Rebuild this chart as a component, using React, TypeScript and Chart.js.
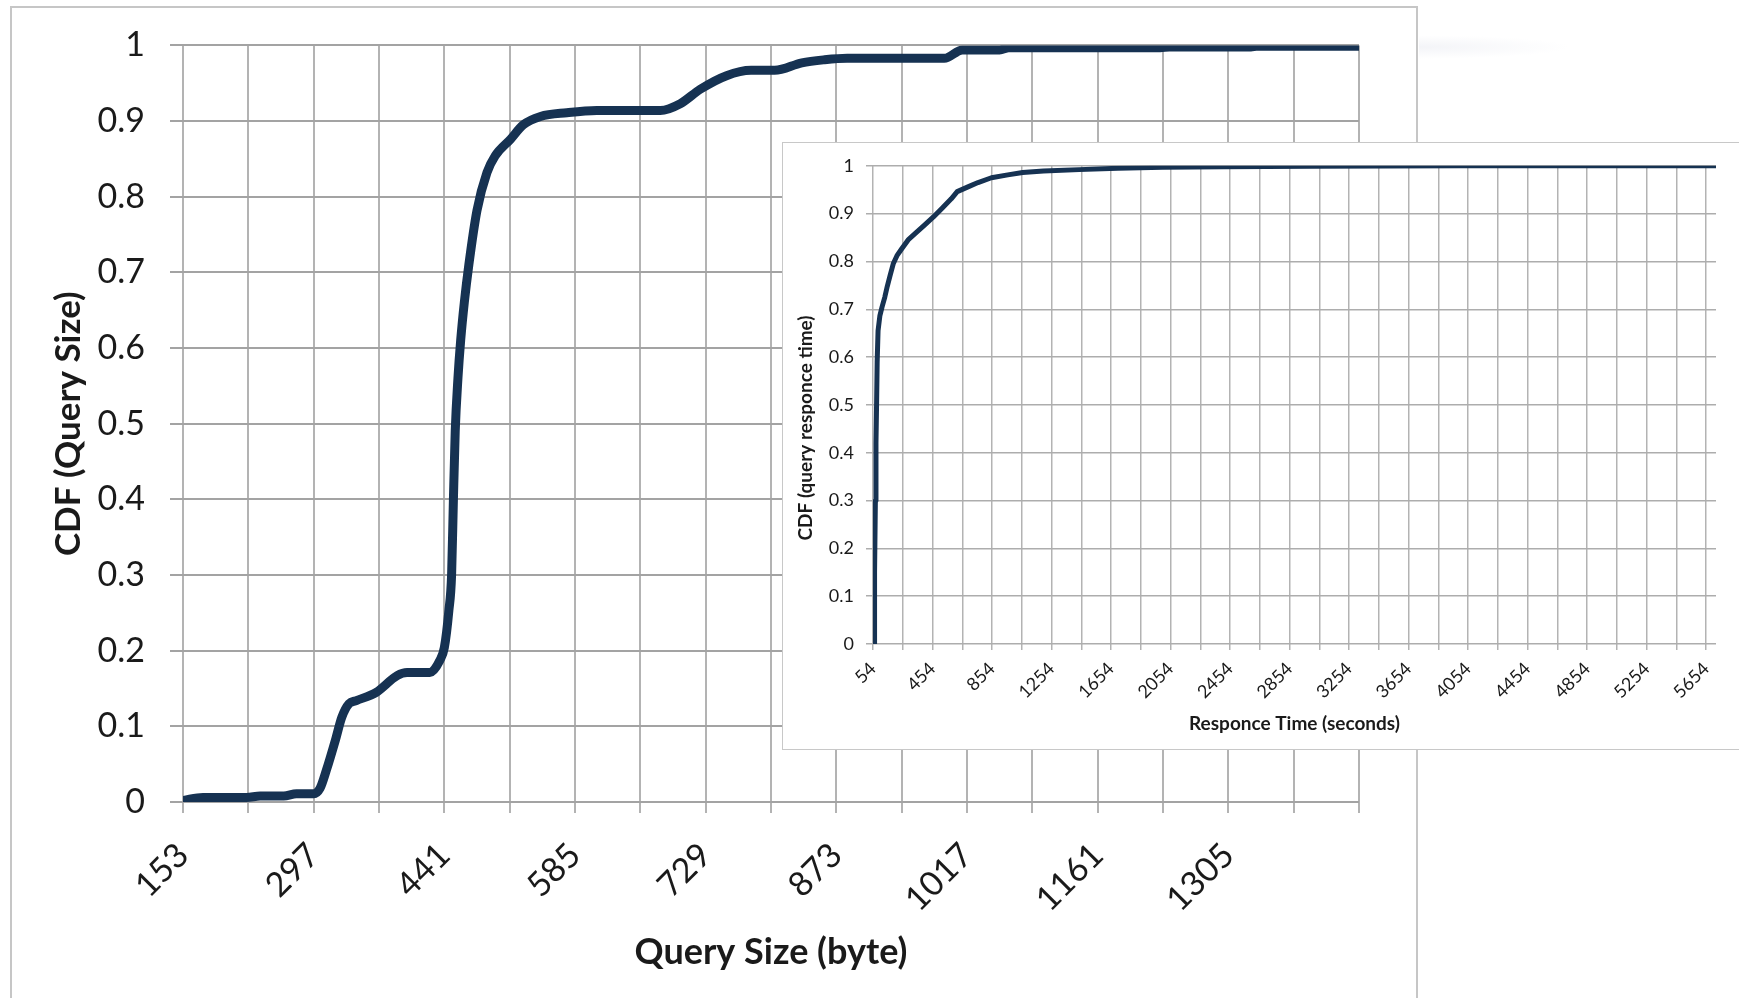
import React, { useEffect, useRef } from "react";
import { Chart, registerables } from "chart.js";

Chart.register(...registerables);

// ---------- Main chart: CDF of query size ----------
const sizeBytes = [153, 175, 223, 238, 264, 278, 297, 304, 311, 321, 328, 336, 344, 366, 389, 400, 425, 436, 441, 446, 449, 451, 453, 456, 459, 463, 468, 477, 488, 497, 514, 528, 547, 576, 609, 679, 701, 723, 752, 779, 805, 835, 860, 885, 992, 1012, 1053, 1063, 1230, 1240, 1330, 1336, 1449];
const sizeCdf = [0.002, 0.006, 0.006, 0.008, 0.008, 0.011, 0.011, 0.018, 0.042, 0.082, 0.112, 0.13, 0.134, 0.145, 0.167, 0.171, 0.171, 0.187, 0.204, 0.253, 0.3, 0.4, 0.49, 0.56, 0.61, 0.66, 0.71, 0.782, 0.832, 0.854, 0.876, 0.895, 0.906, 0.911, 0.914, 0.914, 0.923, 0.942, 0.96, 0.967, 0.967, 0.977, 0.981, 0.983, 0.983, 0.994, 0.994, 0.997, 0.997, 0.998, 0.998, 0.999, 0.999];
const sizeGridTicks = [153, 225, 297, 369, 441, 513, 585, 657, 729, 801, 873, 945, 1017, 1089, 1161, 1233, 1305, 1377, 1449];
const sizeTickLabels = [153, 297, 441, 585, 729, 873, 1017, 1161, 1305];
const cdfTicks = [0, 0.1, 0.2, 0.3, 0.4, 0.5, 0.6, 0.7, 0.8, 0.9, 1];
const cdfTickLabels = ["0", "0.1", "0.2", "0.3", "0.4", "0.5", "0.6", "0.7", "0.8", "0.9", "1"];

// ---------- Inset chart: CDF of query response time ----------
const respSeconds = [61, 63, 66, 70, 74, 78, 82, 88, 100, 115, 133, 150, 170, 190, 215, 246, 290, 340, 400, 460, 520, 580, 620, 700, 760, 850, 960, 1060, 1200, 1440, 1700, 2000, 2400, 3000, 4000, 5000, 5720];
const respCdf = [0, 0.05, 0.15, 0.3, 0.42, 0.5, 0.59, 0.655, 0.686, 0.705, 0.725, 0.748, 0.772, 0.795, 0.812, 0.826, 0.845, 0.859, 0.876, 0.893, 0.912, 0.931, 0.946, 0.957, 0.965, 0.975, 0.981, 0.986, 0.989, 0.992, 0.995, 0.997, 0.998, 0.999, 1.0, 1.0, 1.0];
const respGridTicks = [54, 254, 454, 654, 854, 1054, 1254, 1454, 1654, 1854, 2054, 2254, 2454, 2654, 2854, 3054, 3254, 3454, 3654, 3854, 4054, 4254, 4454, 4654, 4854, 5054, 5254, 5454, 5654];
const respTickLabels = [54, 454, 854, 1254, 1654, 2054, 2454, 2854, 3254, 3654, 4054, 4454, 4854, 5254, 5654];
const respYTitle = "CDF (query responce time)";

const LINE = "#163252";
const FONT = "Lato, 'Open Sans', sans-serif";

function MainChart() {
  const ref = useRef<HTMLCanvasElement | null>(null);
  useEffect(() => {
    if (!ref.current) return;
    const chart = new Chart(ref.current, {
      type: "line",
      data: {
        datasets: [
          {
            data: sizeBytes.map((x, i) => ({ x, y: sizeCdf[i] })),
            borderColor: LINE,
            borderWidth: 9,
            pointRadius: 0,
            cubicInterpolationMode: "monotone",
            borderCapStyle: "round",
            borderJoinStyle: "round",
            fill: false,
          },
        ],
      },
      options: {
        animation: false,
        responsive: false,
        devicePixelRatio: 1,
        layout: { padding: { left: 0, top: 41, right: 380, bottom: 0 } },
        plugins: { legend: { display: false }, tooltip: { enabled: false } },
        scales: {
          x: {
            type: "linear",
            min: 153,
            max: 1449,
            afterBuildTicks: (s: any) => {
              s.ticks = sizeGridTicks.map((v) => ({ value: v }));
            },
            afterFit: (s: any) => {
              s.height = 196;
            },
            ticks: {
              autoSkip: false,
              minRotation: 45,
              maxRotation: 45,
              padding: 22,
              color: "#1a1a1a",
              font: { family: FONT, size: 34 },
              callback: (v: any) => (sizeTickLabels.includes(Number(v)) ? String(v) : ""),
            },
            grid: { color: "#b3b3b3", lineWidth: 2, tickLength: 11, tickColor: "#b3b3b3" },
            border: { display: false },
            title: {
              display: true,
              text: "Query Size (byte)",
              color: "#1a1a1a",
              font: { family: FONT, size: 36, weight: "bold" },
              padding: { top: 0, bottom: 24 },
            },
          },
          y: {
            type: "linear",
            min: 0,
            max: 1,
            afterBuildTicks: (s: any) => {
              s.ticks = cdfTicks.map((v) => ({ value: v }));
            },
            afterFit: (s: any) => {
              s.width = 183;
            },
            ticks: {
              autoSkip: false,
              padding: 25,
              color: "#1a1a1a",
              font: { family: FONT, size: 34 },
              callback: (_v: any, i: number) => cdfTickLabels[i],
            },
            grid: { color: "#a3a3a3", lineWidth: 2, tickLength: 13, tickColor: "#a3a3a3" },
            border: { display: false },
            title: {
              display: true,
              text: "CDF (Query Size)",
              color: "#1a1a1a",
              font: { family: FONT, size: 35, weight: "bold" },
              padding: { top: 48, bottom: 0 },
            },
          },
        },
      },
    } as any);
    return () => chart.destroy();
  }, []);
  return (
    <canvas
      ref={ref}
      width={1739}
      height={998}
      style={{ position: "absolute", left: 0, top: 0, width: 1739, height: 998 }}
    />
  );
}

const insetYTitlePlugin = {
  id: "insetYTitle",
  afterDraw(chart: any) {
    const ctx = chart.ctx;
    ctx.save();
    ctx.translate(23, 285);
    ctx.rotate(-Math.PI / 2);
    ctx.font = `bold 19px ${FONT}`;
    ctx.fillStyle = "#1a1a1a";
    ctx.textAlign = "center";
    ctx.textBaseline = "middle";
    ctx.fillText(respYTitle, 0, 0);
    ctx.restore();
  },
};

function InsetChart() {
  const ref = useRef<HTMLCanvasElement | null>(null);
  useEffect(() => {
    if (!ref.current) return;
    const chart = new Chart(ref.current, {
      type: "line",
      data: {
        datasets: [
          {
            data: respSeconds.map((x, i) => ({ x, y: respCdf[i] })),
            borderColor: LINE,
            borderWidth: 5,
            pointRadius: 0,
            tension: 0,
            borderCapStyle: "round",
            borderJoinStyle: "round",
            fill: false,
          },
        ],
      },
      options: {
        animation: false,
        responsive: false,
        devicePixelRatio: 1,
        layout: { padding: { left: 0, top: 19, right: 23, bottom: 0 } },
        plugins: { legend: { display: false }, tooltip: { enabled: false } },
        scales: {
          x: {
            type: "linear",
            min: 54,
            max: 5720,
            afterBuildTicks: (s: any) => {
              s.ticks = respGridTicks.map((v) => ({ value: v }));
            },
            afterFit: (s: any) => {
              s.height = 105;
            },
            ticks: {
              autoSkip: false,
              minRotation: 45,
              maxRotation: 45,
              padding: 8,
              color: "#1a1a1a",
              font: { family: FONT, size: 18 },
              callback: (v: any) => (respTickLabels.includes(Number(v)) ? String(v) : ""),
            },
            grid: { color: "#b3b3b3", lineWidth: 1.5, tickLength: 6, tickColor: "#b3b3b3" },
            border: { display: false },
            title: {
              display: true,
              text: "Responce Time (seconds)",
              color: "#1a1a1a",
              font: { family: FONT, size: 19, weight: "bold" },
              padding: { top: 0, bottom: 14 },
            },
          },
          y: {
            type: "linear",
            min: 0,
            max: 1,
            afterBuildTicks: (s: any) => {
              s.ticks = cdfTicks.map((v) => ({ value: v }));
            },
            afterFit: (s: any) => {
              s.width = 90;
            },
            ticks: {
              autoSkip: false,
              padding: 12,
              color: "#1a1a1a",
              font: { family: FONT, size: 18 },
              callback: (_v: any, i: number) => cdfTickLabels[i],
            },
            grid: { color: "#adadad", lineWidth: 1.5, tickLength: 7, tickColor: "#adadad" },
            border: { display: false },
            title: { display: false },
          },
        },
      },
      plugins: [insetYTitlePlugin],
    } as any);
    return () => chart.destroy();
  }, []);
  return (
    <canvas
      ref={ref}
      width={956}
      height={606}
      style={{ position: "absolute", left: 783, top: 143, width: 956, height: 606 }}
    />
  );
}

export default function App() {
  return (
    <div
      style={{
        position: "fixed",
        left: 0,
        top: 0,
        width: 1739,
        height: 998,
        overflow: "hidden",
        background: "#ffffff",
      }}
    >
      <div
        style={{
          position: "absolute",
          left: 10,
          top: 6,
          width: 1408,
          height: 1100,
          boxSizing: "border-box",
          border: "2px solid #c6c6c6",
          background: "#ffffff",
        }}
      />
      <div
        style={{
          position: "absolute",
          left: 1419,
          top: 34,
          width: 150,
          height: 26,
          background: "radial-gradient(ellipse 100% 45% at 0% 50%, rgba(242,243,247,0.9), rgba(255,255,255,0) 100%)",
        }}
      />
      <MainChart />
      <div
        style={{
          position: "absolute",
          left: 782,
          top: 142,
          width: 1100,
          height: 608,
          boxSizing: "border-box",
          border: "1.5px solid #c8c8c8",
          background: "#ffffff",
        }}
      />
      <InsetChart />
    </div>
  );
}
